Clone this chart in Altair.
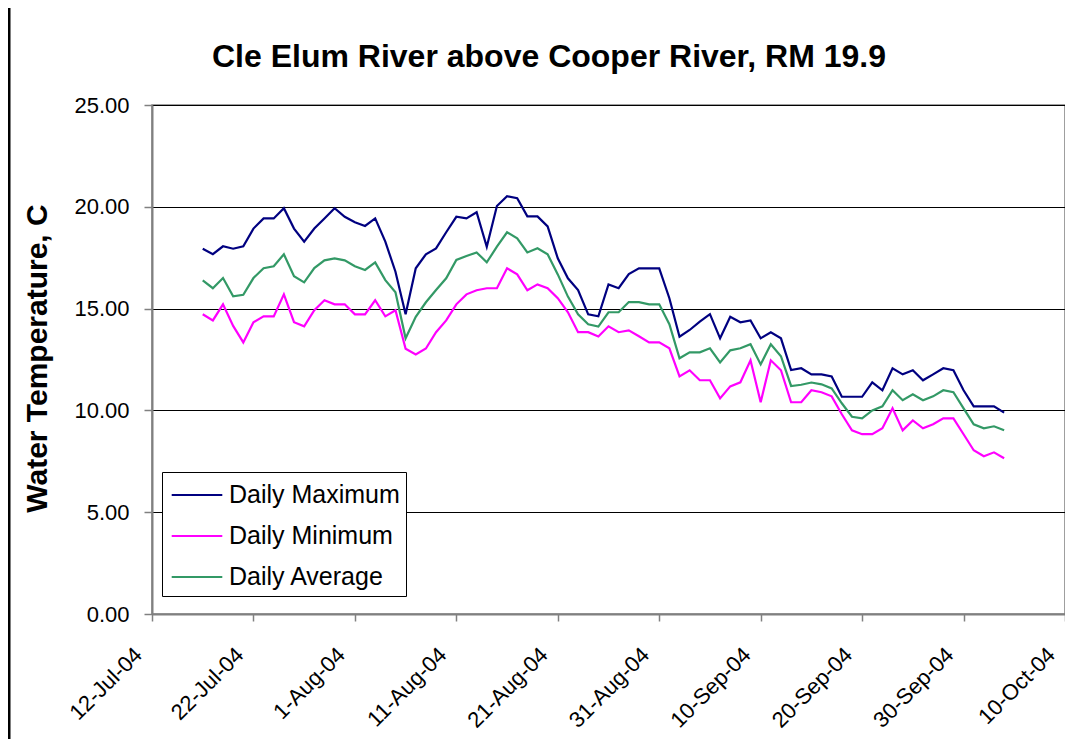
import altair as alt
import pandas as pd

# Daily series, 17-Jul-2004 .. 4-Oct-2004 (80 days)
start_date = "2004-07-17"
n_days = 80

daily_max = [17.94, 17.67, 18.06, 17.94, 18.06, 18.93, 19.43, 19.43, 19.93, 18.93,
             18.29, 18.93, 19.43, 19.93, 19.51, 19.24, 19.06, 19.43, 18.29, 16.81,
             14.72, 16.98, 17.67, 17.96, 18.75, 19.51, 19.43, 19.73, 18.04, 20.04,
             20.52, 20.42, 19.53, 19.53, 19.04, 17.47, 16.49, 15.91, 14.72, 14.62,
             16.19, 16.00, 16.70, 16.98, 16.98, 16.98, 15.51, 13.62, 13.95, 14.36,
             14.73, 13.54, 14.60, 14.33, 14.42, 13.54, 13.84, 13.54, 11.98, 12.07,
             11.77, 11.77, 11.67, 10.67, 10.67, 10.67, 11.38, 10.99, 12.07, 11.77,
             11.97, 11.48, 11.77, 12.07, 11.97, 10.99, 10.20, 10.20, 10.20, 9.89]

daily_min = [14.72, 14.42, 15.21, 14.15, 13.34, 14.33, 14.62, 14.62, 15.70, 14.33,
             14.13, 14.92, 15.41, 15.21, 15.21, 14.72, 14.72, 15.41, 14.62, 14.92,
             13.03, 12.75, 13.04, 13.84, 14.42, 15.21, 15.70, 15.90, 16.00, 16.00,
             16.98, 16.68, 15.90, 16.19, 16.00, 15.51, 14.82, 13.84, 13.84, 13.63,
             14.13, 13.84, 13.93, 13.64, 13.34, 13.34, 13.05, 11.67, 11.97, 11.48,
             11.48, 10.59, 11.18, 11.38, 12.46, 10.40, 12.46, 11.97, 10.40, 10.40,
             10.99, 10.89, 10.69, 9.81, 9.02, 8.83, 8.83, 9.12, 10.10, 9.02,
             9.51, 9.12, 9.32, 9.61, 9.61, 8.83, 8.04, 7.75, 7.94, 7.65]

daily_avg = [16.39, 16.00, 16.50, 15.60, 15.68, 16.50, 16.98, 17.08, 17.67, 16.59,
             16.29, 16.99, 17.37, 17.47, 17.37, 17.08, 16.90, 17.27, 16.40, 15.80,
             13.54, 14.60, 15.31, 15.91, 16.49, 17.39, 17.58, 17.76, 17.27, 18.04,
             18.75, 18.45, 17.76, 17.96, 17.67, 16.68, 15.59, 14.72, 14.23, 14.12,
             14.82, 14.82, 15.32, 15.32, 15.21, 15.21, 14.23, 12.56, 12.85, 12.85,
             13.05, 12.36, 12.95, 13.05, 13.25, 12.26, 13.25, 12.66, 11.20, 11.26,
             11.37, 11.28, 11.08, 10.35, 9.69, 9.61, 10.00, 10.20, 10.99, 10.50,
             10.79, 10.50, 10.69, 10.99, 10.89, 10.10, 9.32, 9.12, 9.22, 9.02]

series_names = ["Daily Maximum", "Daily Minimum", "Daily Average"]
series_colors = ["#000080", "#FF00FF", "#339966"]

tick_dates = [(7, 12), (7, 22), (8, 1), (8, 11), (8, 21), (8, 31),
              (9, 10), (9, 20), (9, 30), (10, 10)]
y_ticks = [0, 5, 10, 15, 20, 25]

chart_title = "Cle Elum River above Cooper River, RM 19.9"

dates = pd.date_range(start_date, periods=n_days, freq="D").strftime("%Y-%m-%dT00:00:00")
rows = []
for name, vals in zip(series_names, [daily_max, daily_min, daily_avg]):
    for d, v in zip(dates, vals):
        rows.append({"date": d, "series": name, "temp": v})
df = pd.DataFrame(rows)

grey = "#808080"

x_axis = alt.Axis(
    values=[alt.DateTime(year=2004, month=m, date=d) for m, d in tick_dates],
    format="%-d-%b-%y", labelAngle=-45, labelAlign="right", labelBaseline="middle",
    labelFontSize=22, labelColor="black", labelPadding=30, labelOffset=-14,
    labelOverlap=False, labelFlush=False, grid=False,
    domainColor=grey, domainWidth=2, tickColor=grey, tickWidth=1.5, tickSize=7,
    title=None,
)
y_axis = alt.Axis(
    values=y_ticks, format=".2f", grid=True, gridColor="black", gridWidth=1,
    domainColor=grey, domainWidth=2, tickColor=grey, tickWidth=1.5, tickSize=8,
    labelFontSize=22, labelColor="black", labelPadding=15,
    title="Water Temperature, C", titleFontSize=30, titleFontWeight="bold",
    titleColor="black", titleX=-106, titleY=253, titleAngle=270,
    titleAlign="center", titleBaseline="alphabetic",
)

legend = alt.Legend(
    orient="none", legendX=10, legendY=367, title=None,
    symbolType="M-1.6,0H1.6", symbolSize=1000, symbolStrokeWidth=2,
    labelFontSize=25, labelColor="black", labelFont="Liberation Sans",
    labelLimit=400, padding=6, symbolOffset=12, labelOffset=15, rowPadding=11,
    strokeColor="black", fillColor="white", direction="vertical",
)

lines = alt.Chart(df).mark_line(strokeWidth=2.2).encode(
    x=alt.X("date:T", axis=x_axis,
            scale=alt.Scale(domain=[alt.DateTime(year=2004, month=7, date=12),
                                    alt.DateTime(year=2004, month=10, date=10)])),
    y=alt.Y("temp:Q", axis=y_axis, scale=alt.Scale(domain=[0, 25], nice=False)),
    color=alt.Color("series:N", legend=legend,
                    scale=alt.Scale(domain=series_names, range=series_colors)),
)

# chart title, placed above the plot area
title = alt.Chart(pd.DataFrame({"t": [chart_title]})).mark_text(
    font="Liberation Sans", fontSize=32, fontWeight="bold", color="black",
    align="center", baseline="alphabetic",
).encode(text="t:N", x=alt.value(397), y=alt.value(-38))

# left edge of the chart's outer frame
frame = alt.Chart(pd.DataFrame({"k": [0]})).mark_rule(
    color="black", strokeWidth=3
).encode(x=alt.value(-143), y=alt.value(-97), y2=alt.value(634))

chart = alt.layer(lines, title, frame).properties(
    width=913, height=509,
    autosize=alt.AutoSizeParams(type="none"),
    padding={"left": 144, "top": 97, "right": 0, "bottom": 125},
).configure(
    font="Liberation Sans", background="white",
).configure_view(
    stroke=grey, strokeWidth=1.5,
)

chart.save("out.html", embed_options={"renderer": "svg", "actions": False})
